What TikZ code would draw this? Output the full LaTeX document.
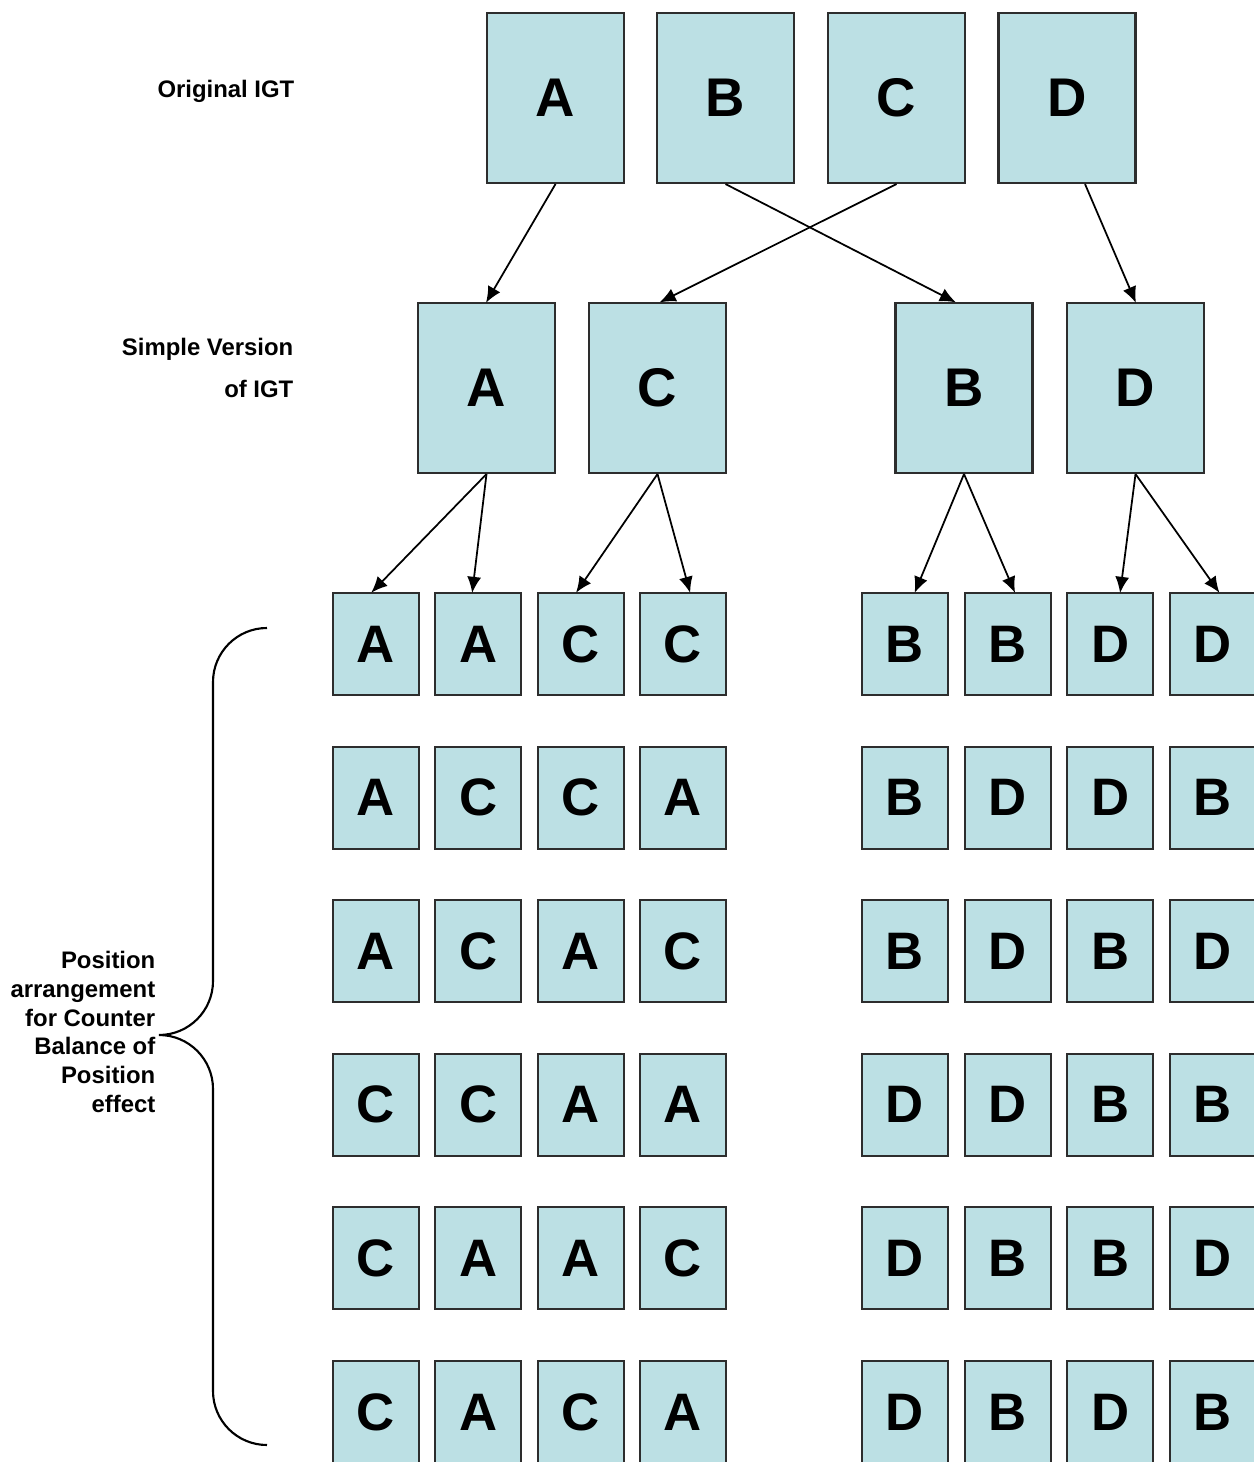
\documentclass[tikz,border=0pt]{standalone}
\usepackage{fontspec}
\setmainfont{Liberation Sans}
\usepackage{xcolor}
\usepackage{tikz}
\usetikzlibrary{positioning,arrows.meta}
\definecolor{cardblue}{RGB}{188, 224, 228}
\definecolor{cardedge}{RGB}{45, 45, 45}

\tikzset{
  bigcard/.style={draw=cardedge,line width=0.6pt,fill=cardblue,inner sep=0pt,
    minimum width=1.37cm,minimum height=1.70cm,font=\fontsize{15.5}{18}\selectfont\bfseries},
  card/.style={draw=cardedge,line width=0.6pt,fill=cardblue,inner sep=0pt,
    minimum width=0.86cm,minimum height=1.02cm,font=\fontsize{15}{18}\selectfont\bfseries},
  lbl/.style={font=\fontsize{6.8}{8.2}\selectfont\bfseries,align=right,anchor=east,inner sep=0pt},
  link/.style={-{Latex[length=4.6pt,width=4pt]},line width=0.5pt,shorten >=-0.3pt}
}

\begin{document}
\begin{tikzpicture}
    \useasboundingbox (0,0) rectangle (12.54,-14.62);

    % Original IGT decks
    \foreach \d/\x in {A/5.555,B/7.255,C/8.965,D/10.67}
        \node[bigcard] (t\d) at (\x,-0.98) {\d};
    \node[lbl] (orig) at (2.95,-0.91) {Original IGT};

    % Simple version of IGT
    \foreach \d/\x in {A/4.865,C/6.575,B/9.64,D/11.355}
        \node[bigcard] (m\d) at (\x,-3.88) {\d};
    \node[lbl] (simple) at (2.94,-3.68) {Simple Version\\[3.6pt]of IGT};

    \draw[link] (tA.south) -- (mA.north);
    \draw[link] (tB.south) -- ([xshift=-0.09cm]mB.north);
    \draw[link] (tC.south) -- ([xshift=0.03cm]mC.north);
    \draw[link] ([xshift=0.18cm]tD.south) -- (mD.north);

    % Position arrangements (6 rows x 8 cards)
    \foreach \row [count=\r] in {{A,A,C,C,B,B,D,D},{A,C,C,A,B,D,D,B},{A,C,A,C,B,D,B,D},
                                 {C,C,A,A,D,D,B,B},{C,A,A,C,D,B,B,D},{C,A,C,A,D,B,D,B}}{
        \foreach \lt [count=\c] in \row {
            \pgfmathsetmacro{\cx}{\c<5 ? 3.76+(\c-1)*1.023 : 9.05+(\c-5)*1.026}
            \pgfmathsetmacro{\cy}{-(6.44+(\r-1)*1.536)}
            \node[card] (s\r-\c) at (\cx,\cy) {\lt};
        }
    }

    \draw[link] (mA.south) -- ([xshift=-0.04cm]s1-1.north);
    \draw[link] (mA.south) -- ([xshift=-0.06cm]s1-2.north);
    \draw[link] (mC.south) -- ([xshift=-0.04cm]s1-3.north);
    \draw[link] (mC.south) -- ([xshift=0.07cm]s1-4.north);
    \draw[link] (mB.south) -- ([xshift=0.1cm]s1-5.north);
    \draw[link] (mB.south) -- ([xshift=0.07cm]s1-6.north);
    \draw[link] (mD.south) -- ([xshift=0.1cm]s1-7.north);
    \draw[link] (mD.south) -- ([xshift=0.06cm]s1-8.north);

    % Brace over the arrangements
    \draw[line width=0.6pt] (2.67,-6.28) arc[start angle=90,end angle=180,radius=0.54]
        -- (2.13,-9.81) arc[start angle=0,end angle=-90,radius=0.54]
        arc[start angle=90,end angle=0,radius=0.54]
        -- (2.13,-13.91) arc[start angle=180,end angle=270,radius=0.54];
    \node[lbl] (posnote) at (1.56,-10.32) {Position\\arrangement\\for Counter\\Balance of\\Position\\effect};
\end{tikzpicture}
\end{document}
